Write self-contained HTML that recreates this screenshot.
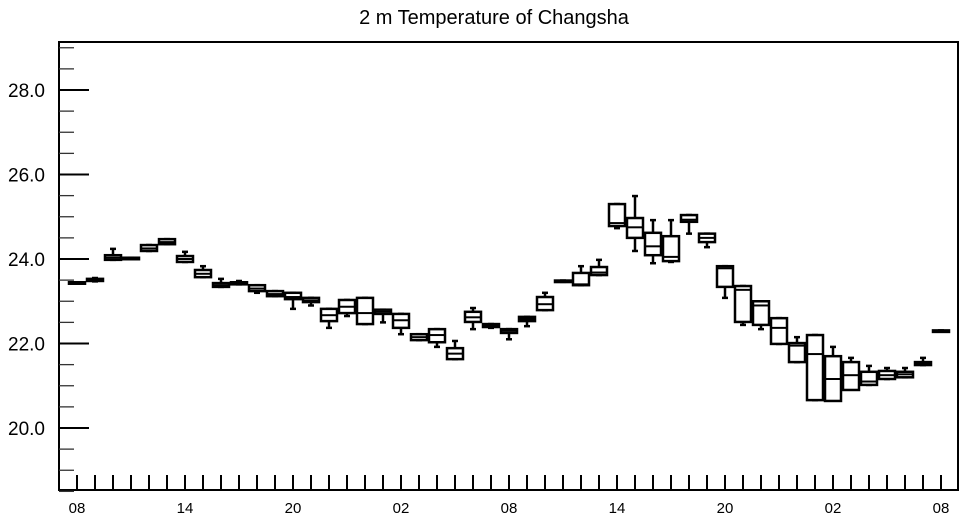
<!DOCTYPE html>
<html><head><meta charset="utf-8"><style>body{margin:0;background:#fff}svg{display:block;font-family:"Liberation Sans",sans-serif}</style></head>
<body>
<svg id="chart" width="964" height="520" xmlns="http://www.w3.org/2000/svg">
<text x="494" y="24" font-size="20" text-anchor="middle">2 m Temperature of Changsha</text>
<g id="plot"></g>
</svg>
<script>
const hours = Array.from({length:49},(_,i)=>i);
const xTickLabels = ["08","14","20","02","08","14","20","02","08"];
const yTickLabels = [20,22,24,26,28];
const mins = [23.45,23.47,23.98,24.02,24.19,24.35,23.93,23.57,23.34,23.4,23.2,23.12,22.82,22.9,22.37,22.65,22.46,22.5,22.22,22.08,21.92,21.63,22.34,22.37,22.1,22.41,22.79,23.46,23.38,23.62,24.73,24.19,23.9,23.93,24.6,24.28,23.08,22.44,22.34,21.99,21.56,20.66,20.7,20.92,21.02,21.16,21.2,21.49,22.28];
const q1s = [23.45,23.48,23.98,24.01,24.19,24.35,23.93,23.57,23.34,23.4,23.24,23.12,23.05,22.98,22.53,22.72,22.46,22.7,22.37,22.08,22.03,21.63,22.51,22.39,22.25,22.53,22.79,23.46,23.38,23.62,24.78,24.5,24.09,23.95,24.88,24.4,23.34,22.51,22.44,21.99,21.56,20.66,20.64,20.9,21.02,21.16,21.2,21.49,22.28];
const medians = [23.45,23.5,24.03,24.02,24.25,24.4,24.0,23.65,23.38,23.43,23.3,23.17,23.1,23.02,22.67,22.87,22.72,22.75,22.55,22.15,22.2,21.76,22.62,22.43,22.3,22.58,22.93,23.48,23.4,23.68,24.85,24.75,24.3,24.05,24.93,24.5,23.78,23.27,22.9,22.37,21.95,21.75,21.16,21.25,21.1,21.25,21.27,21.52,22.3];
const q3s = [23.45,23.53,24.09,24.03,24.33,24.47,24.07,23.74,23.43,23.45,23.38,23.24,23.2,23.08,22.82,23.03,23.08,22.8,22.7,22.22,22.34,21.89,22.75,22.46,22.34,22.63,23.1,23.49,23.67,23.81,25.3,24.97,24.62,24.54,25.04,24.6,23.83,23.36,23.0,22.6,22.01,22.2,21.7,21.56,21.33,21.35,21.33,21.56,22.31];
const maxs = [23.45,23.55,24.24,24.03,24.33,24.47,24.17,23.83,23.53,23.48,23.38,23.24,23.2,23.08,22.82,23.03,23.08,22.8,22.7,22.22,22.34,22.06,22.84,22.46,22.34,22.63,23.2,23.49,23.83,23.98,25.3,25.49,24.92,24.92,25.04,24.6,23.83,23.36,23.0,22.6,22.15,22.2,21.92,21.66,21.47,21.42,21.42,21.66,22.31];

const L=59,R=958,T=42,B=490;
const X0=77,DX=18;
const xs=h=>X0+h*DX;
const ys=v=>428-(v-20)*42.25;
const NS="http://www.w3.org/2000/svg";
const g=document.getElementById('plot');
function mk(tag,attrs){const e=document.createElementNS(NS,tag);for(const k in attrs)e.setAttribute(k,attrs[k]);g.appendChild(e);return e;}
const frame=mk('rect',{x:L,y:T,width:R-L,height:B-T,fill:'none',stroke:'#000','stroke-width':2});


for(let v=18.5;v<=29.01;v+=0.5){
  const major=Math.abs(v-Math.round(v))<0.01&&Math.round(v)%2===0;
  const t=mk('line',{x1:L,x2:L+(major?30:15),y1:ys(v),y2:ys(v),stroke:major?'#000':'#333','stroke-width':major?2:1.3});
  
  
}
yTickLabels.forEach(v=>{
  const t=mk('text',{x:45,y:ys(v)+7,'font-size':19,'text-anchor':'end'});
  t.textContent=v.toFixed(1);
  
  
});
hours.forEach(h=>{
  const t=mk('line',{x1:xs(h),x2:xs(h),y1:B,y2:B-15,stroke:'#000','stroke-width':2});
  
  
});
xTickLabels.forEach((s,i)=>{
  const t=mk('text',{x:xs(i*6),y:513,'font-size':15,'text-anchor':'middle'});
  t.textContent=s;
  
  
});
hours.forEach((h,i)=>{
  const x=xs(h),w=16;
  const wl=mk('line',{x1:x,x2:x,y1:ys(maxs[i]),y2:ys(mins[i]),stroke:'#000','stroke-width':2.5});
  
  
  [maxs[i],mins[i]].forEach(v=>{
    const c=mk('line',{x1:x-3,x2:x+3,y1:ys(v),y2:ys(v),stroke:'#000','stroke-width':2.5});
    
    
  });
  const top=ys(q3s[i]),bot=ys(q1s[i]);
  const b=mk('rect',{x:x-w/2,y:top,width:w,height:Math.max(bot-top,1.5),fill:'#fff',stroke:'#000','stroke-width':2.5});
  
  
  const m=mk('line',{x1:x-w/2,x2:x+w/2,y1:ys(medians[i]),y2:ys(medians[i]),stroke:'#000','stroke-width':2});
  
  
});
</script>
</body></html>
